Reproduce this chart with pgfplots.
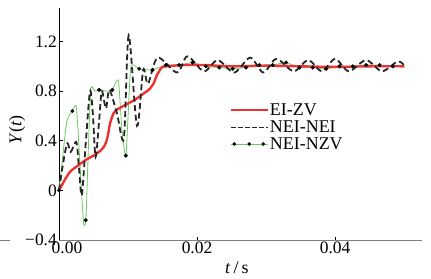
\documentclass[border=0pt]{standalone}
\usepackage{fontspec}
\setmainfont{Liberation Serif}
\usepackage{pgfplots}
\pgfplotsset{compat=1.18}
\definecolor{myred}{RGB}{236,50,50}
\definecolor{mygreen}{RGB}{110,200,100}
\begin{document}
\begin{tikzpicture}
\begin{axis}[
  name=ax, scale only axis, width=363bp, height=232bp,
  xmin=0, xmax=0.0526, ymin=-0.4, ymax=1.47,
  axis lines*=left,
  x axis line style={gray, line width=0.9bp},
  y axis line style={black, line width=0.9bp},
  tick align=inside, major tick length=3.5bp,
  tick style={black, line width=0.6bp},
  xtick={0,0.02,0.04}, xticklabels={\hspace*{16bp}0.00,0.02,0.04},
  ytick={-0.4,0,0.4,0.8,1.2}, yticklabels={−0.4,0,0.4,0.8,1.2},
  scaled x ticks=false, scaled y ticks=false,
  /pgf/number format/assume math mode=true,
  ticklabel style={font=\fontsize{17.5}{17.5}\selectfont},
  xticklabel style={inner sep=1bp, yshift=-1bp},
  yticklabel style={inner sep=2bp},
  xlabel={\textit{t}\,/\,s}, ylabel={\textit{Y}(\textit{t})},
  every axis x label/.style={at={(rel axis cs:0.49,0)}, yshift=-28bp, anchor=center, font=\fontsize{18}{18}\selectfont},
  every axis y label/.style={at={(rel axis cs:0,0.474)}, xshift=-42bp, rotate=90, anchor=center, font=\fontsize{18}{18}\selectfont},
  legend style={at={(rel axis cs:0.471,0.592)}, anchor=north west, draw=none, fill=none,
    font=\fontsize{18}{18}\selectfont, row sep=2.5bp, inner sep=0pt,
    nodes={inner sep=0.6bp}},
  legend cell align=left,
  clip=false,
]
% green line NEI-NZV
\addplot[mygreen, line width=0.8bp, smooth, tension=0.3, forget plot] coordinates {
(0,0)(0.0005,0.25)(0.0011,0.55)(0.0019,0.64)(0.0025,0.68)(0.0029,0.35)(0.0033,-0.05)
(0.0036,-0.28)(0.0039,-0.24)(0.0042,0.25)(0.0046,0.82)(0.0052,0.80)(0.0058,0.81)
(0.0068,0.80)(0.0077,0.81)(0.0086,0.89)(0.0091,0.50)(0.0097,0.28)(0.0104,0.99)
(0.0116,0.98)(0.0135,0.97)(0.01548,1.01)(0.01742,1.01)(0.01935,1.03)(0.02129,1.00)
(0.02322,0.99)(0.02516,0.98)(0.0271,0.99)(0.02903,1.01)(0.03097,1.01)(0.0329,1.03)
(0.03484,0.99)(0.03677,0.99)(0.03871,0.98)(0.04064,1.0)(0.04258,1.0)(0.04451,1.01)
(0.04645,1.01)(0.04838,1.0)(0.0501,1.0)};
% red EI-ZV
\addplot[myred, line width=2.4bp, smooth, tension=0.5,
  legend image code/.code={\draw[myred, line width=2.2bp] (0bp,0bp) -- (37bp,0bp);}] coordinates {
(0,0)(0.0005,0.05)(0.001,0.10)(0.0016,0.15)(0.002,0.17)(0.003,0.21)(0.004,0.25)
(0.005,0.28)(0.006,0.32)(0.0066,0.36)(0.007,0.42)(0.0074,0.54)(0.0079,0.62)
(0.0084,0.65)(0.009,0.67)(0.010,0.70)(0.011,0.73)(0.012,0.77)(0.0132,0.82)
(0.0137,0.86)(0.0142,0.93)(0.0149,0.99)(0.0156,1.0)(0.018,1.01)(0.021,1.01)
(0.025,1.0)(0.03,1.005)(0.035,1.0)(0.04,0.995)(0.045,1.0)(0.05,1.0)};
\addlegendentry{EI-ZV}
% dashed NEI-NEI
\addplot[black!85, line width=1.8bp, dash pattern=on 6bp off 3.5bp, smooth, tension=0.5,
  legend image code/.code={\draw[black!85, line width=0.8bp, dash pattern=on 4.5bp off 2.5bp] (0bp,0bp) -- (37bp,0bp);}] coordinates {
(0,0)(0.0006,0.22)(0.0012,0.38)(0.0017,0.31)(0.0025,0.39)(0.0029,0.18)(0.0033,-0.04)
(0.0039,0.40)(0.0045,0.80)(0.0049,0.62)(0.0053,0.27)(0.0058,0.55)(0.0062,0.80)
(0.0068,0.66)(0.0073,0.81)(0.0084,0.62)(0.0094,0.42)(0.0101,1.25)(0.0113,0.52)
(0.0122,0.97)(0.0129,0.86)(0.0143,1.07)(0.0171,0.95)(0.0186,1.08)(0.0210,0.96)
(0.0230,1.05)(0.0254,0.95)(0.0277,1.07)(0.0296,0.95)(0.0315,1.06)(0.0340,0.96)
(0.0361,1.05)(0.0381,0.96)(0.0400,1.06)(0.0420,0.96)(0.0445,1.05)(0.0468,0.96)
(0.0491,1.04)(0.0501,1.00)};
\addlegendentry{NEI-NEI}
% dots NEI-NZV
\addplot[only marks, mark=*, mark size=1.8bp, black,
  legend image code/.code={\draw[mygreen, line width=0.8bp] (0bp,0bp) -- (37bp,0bp);
    \fill[black] (3bp,0bp) circle (1.6bp); \fill[black] (18bp,0bp) circle (1.6bp); \fill[black] (32bp,0bp) circle (1.6bp);}] coordinates {
(0,0)(0.00194,0.64)(0.00387,-0.24)(0.00581,0.81)(0.00774,0.81)(0.00968,0.28)
(0.01161,0.98)(0.01355,0.97)(0.01548,1.01)(0.01742,1.01)(0.01935,1.03)(0.02129,1.00)
(0.02322,0.99)(0.02516,0.98)(0.0271,0.99)(0.02903,1.01)(0.03097,1.01)(0.0329,1.03)
(0.03484,0.99)(0.03677,0.99)(0.03871,0.98)(0.04064,1.0)(0.04258,1.0)(0.04451,1.01)
(0.04645,1.01)(0.04838,1.0)};
\addlegendentry{NEI-NZV}
\coordinate (bl) at (rel axis cs:0,0);
\coordinate (tr) at (rel axis cs:1,1);
\end{axis}
\draw[gray, line width=0.9bp] ([xshift=-59bp]bl) -- ([xshift=-49bp]bl);
\pgfresetboundingbox
\path ([shift={(-59bp,-39bp)}]bl) rectangle ([shift={(9bp,8bp)}]tr);
\end{tikzpicture}
\end{document}
